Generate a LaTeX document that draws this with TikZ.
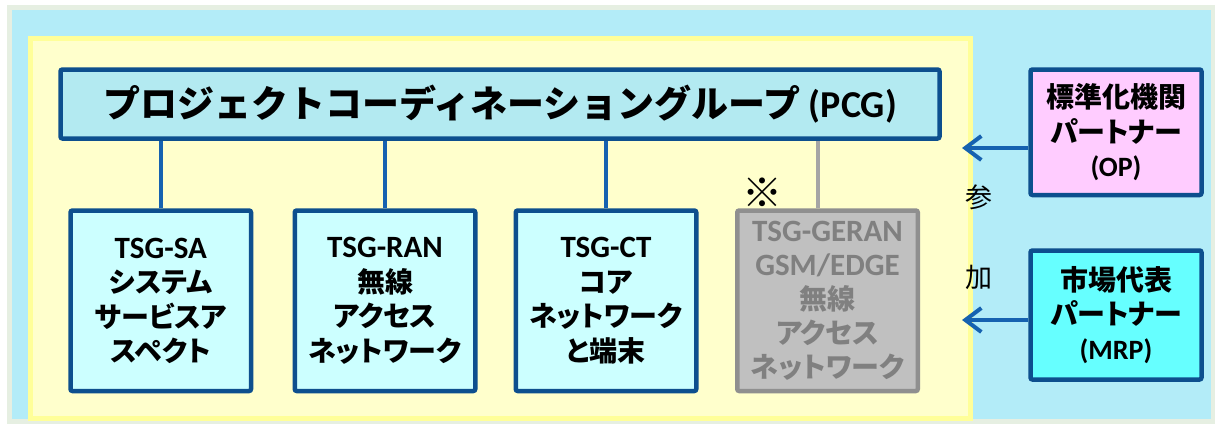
\documentclass[tikz,border=0pt]{standalone}
\usepackage{fontspec}
\setmainfont{Noto Sans CJK JP}
\newfontfamily\jp{Noto Sans CJK JP}
\newfontfamily\jpp{Noto Sans CJK JP}[RawFeature=+palt]
\newfontfamily\lat{Carlito}
\usetikzlibrary{arrows.meta,calc}
\definecolor{bgblue}{HTML}{B3ECF8}
\definecolor{frame}{HTML}{E6EFE2}
\definecolor{ylw}{HTML}{FFFFCC}
\definecolor{ylwb}{HTML}{FFFF99}
\definecolor{dblue}{HTML}{0D4F8E}
\definecolor{cblue}{HTML}{1662B0}
\definecolor{pcgfill}{HTML}{B3EAF1}
\definecolor{tsgfill}{HTML}{CCFFFF}
\definecolor{gfill}{HTML}{C0C0C0}
\definecolor{gbord}{HTML}{8F8F8F}
\definecolor{gtext}{HTML}{808080}
\definecolor{opfill}{HTML}{FFCCFF}
\definecolor{mrpfill}{HTML}{66FFFF}
\pgfdeclarelayer{back}
\pgfdeclarelayer{mid}
\pgfsetlayers{back,mid,main}
\begin{document}
\begin{tikzpicture}[x=1pt,y=-1pt,
  box/.style={draw=dblue,line width=4.5pt,rounded corners=2pt,inner sep=0pt,align=center,
    font=\jpp\bfseries\fontsize{28}{34.5}\selectfont},
  tsg/.style={box,fill=tsgfill,minimum width=180.5pt,minimum height=180.5pt},
  gtsg/.style={tsg,draw=gbord,fill=gfill,text=gtext,font=\jpp\bfseries\fontsize{28}{34}\selectfont},
  partner/.style={box,minimum width=171pt},
  conn/.style={draw=cblue,line width=4.5pt},
  gconn/.style={draw=gbord!80,line width=4.5pt},
  arr/.style={draw=cblue,line width=4pt,-{Straight Barb[length=16pt,width=24pt]}},
  side/.style={font=\jp\fontsize{27}{30}\selectfont,inner sep=0pt}
]
\useasboundingbox (0,0) rectangle (1215,424);
\begin{pgfonlayer}{back}
  \fill[white] (0,0) rectangle (1215,424);
  \draw[frame,line width=5pt,fill=bgblue] (9.5,7.5) rectangle (1213,421.5);
  \draw[ylwb,line width=5pt,fill=ylw] (30,38.5) rectangle (970,418.5);
\end{pgfonlayer}

\node[box,fill=pcgfill,minimum width=879pt,minimum height=69pt,
  font=\jp\bfseries\fontsize{37}{40}\selectfont] (pcg) at (500,104)
  {プロジェクトコーディネーショングループ {\lat\fontsize{38}{40}\selectfont (PCG)}};

\node[tsg] (sa) at (160.75,300.75)
  {{\lat\fontsize{31}{34}\selectfont TSG-SA}\\システム\\サービスア\\スペクト};
\node[tsg] (ran) at (385,300.75)
  {{\lat\fontsize{31}{34}\selectfont TSG-RAN}\\無線\\アクセス\\ネットワーク};
\node[tsg] (ct) at (606,300.75)
  {{\lat\fontsize{31}{34}\selectfont TSG-CT}\\コア\\ネットワーク\\と端末};
\node[gtsg] (geran) at (827.5,300.75)
  {{\lat\fontsize{31}{34}\selectfont TSG-GERAN}\\{\lat\fontsize{31}{34}\selectfont GSM/EDGE}\\無線\\アクセス\\ネットワーク};
\node[font=\jp\bfseries\fontsize{40}{44}\selectfont,inner sep=0pt] (note) at (762,193) {※};

\node[partner,fill=opfill,minimum height=125.5pt] (op) at (1116,132.25)
  {標準化機関\\パートナー\\{\lat\fontsize{28}{34}\selectfont (OP)}};
\node[partner,fill=mrpfill,minimum height=129pt] (mrp) at (1116,315)
  {市場代表\\パートナー\\{\lat\fontsize{28}{34}\selectfont (MRP)}};

\node[side] (san) at (979,197) {参};
\node[side] (ka) at (979,277) {加};

\coordinate (gtop) at ($(geran.north)+(-9.5,0)$);
\coordinate (opend) at (962,148);
\coordinate (mrpend) at (962,320);
\begin{pgfonlayer}{mid}
  \draw[conn] (sa.north) -- (sa.north |- pcg.south);
  \draw[conn] (ran.north) -- (ran.north |- pcg.south);
  \draw[conn] (ct.north) -- (ct.north |- pcg.south);
  \draw[gconn] (gtop) -- (gtop |- pcg.south);
\end{pgfonlayer}
\draw[arr] (op.west |- opend) -- (opend);
\draw[arr] (mrp.west |- mrpend) -- (mrpend);
\end{tikzpicture}
\end{document}
